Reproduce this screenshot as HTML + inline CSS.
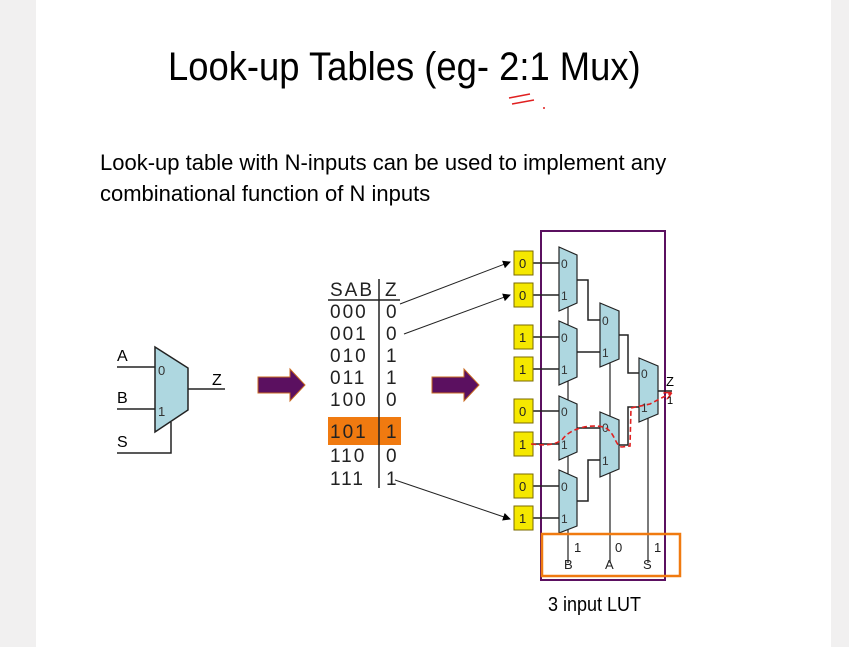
<!DOCTYPE html>
<html><head><meta charset="utf-8"><style>
body{margin:0;width:849px;height:647px;background:#f1f0f0;overflow:hidden;font-family:"Liberation Sans",sans-serif}
#pg{position:absolute;left:36px;top:0;width:795px;height:647px;background:#fff}
</style></head><body>
<div id="pg"></div>
<svg width="849" height="647" style="position:absolute;left:0;top:0" font-family="Liberation Sans, sans-serif">
<defs>
<marker id="ah" markerWidth="8" markerHeight="8" refX="7" refY="4" orient="auto" markerUnits="userSpaceOnUse"><path d="M0,0 L8,4 L0,8z" fill="#000"/></marker>
<marker id="rh" markerWidth="8" markerHeight="8" refX="7" refY="4" orient="auto" markerUnits="userSpaceOnUse"><path d="M0,0 L8,4 L0,8" fill="none" stroke="#e02020" stroke-width="1.5"/></marker>
</defs>
<text x="168" y="80" font-size="40" transform="translate(168,0) scale(0.91,1) translate(-168,0)">Look-up Tables (eg- 2:1 Mux)</text>
<path d="M509,98 L530,94 M512,104 L534,100" stroke="#e02020" stroke-width="1.5"/>
<circle cx="544" cy="108" r="1" fill="#e02020"/>
<text font-size="22" transform="translate(100,0) scale(1.0,1) translate(-100,0)"><tspan x="100" y="170">Look-up table with N-inputs can be used to implement any</tspan><tspan x="100" y="201">combinational function of N inputs</tspan></text>

<!-- left mux -->
<g stroke="#222" stroke-width="1.5" fill="none">
<path d="M117,367H155 M117,409H155 M117,453H171V422 M188,389H225"/>
<path d="M155,347 L188,368 L188,410 L155,432z" fill="#aed7e0"/>
</g>
<g font-size="16"><text x="117" y="361">A</text><text x="117" y="403">B</text><text x="117" y="447">S</text><text x="212" y="385">Z</text></g>
<g font-size="13" fill="#333"><text x="158" y="375">0</text><text x="158" y="416">1</text></g>

<!-- arrows -->
<path d="M258,377H290V369L305,385L290,401V393H258z" fill="#5b1060" stroke="#c86a20" stroke-width="1"/>
<path d="M432,377H464V369L479,385L464,401V393H432z" fill="#5b1060" stroke="#c86a20" stroke-width="1"/>

<!-- table -->
<rect x="328" y="417" width="73" height="28" fill="#f07a10"/>
<path d="M328,300H400 M379,279V488" stroke="#222" stroke-width="1.5"/>
<g font-size="19" letter-spacing="2" fill="#222">
<text x="330" y="296">SAB</text><text x="385" y="296">Z</text>
<text x="330" y="318">000</text><text x="386" y="318">0</text>
<text x="330" y="340">001</text><text x="386" y="340">0</text>
<text x="330" y="362">010</text><text x="386" y="362">1</text>
<text x="330" y="384">011</text><text x="386" y="384">1</text>
<text x="330" y="406">100</text><text x="386" y="406">0</text>
<text x="330" y="438">101</text><text x="386" y="438">1</text>
<text x="330" y="462">110</text><text x="386" y="462">0</text>
<text x="330" y="485">111</text><text x="386" y="485">1</text>
</g>
<g stroke="#222" stroke-width="1" marker-end="url(#ah)">
<path d="M400,304 L510,262"/><path d="M404,334 L510,295"/><path d="M395,480 L510,519"/>
</g>

<!-- LUT -->
<rect x="541" y="231" width="124" height="349" fill="none" stroke="#5b1060" stroke-width="2"/>
<g stroke="#222" stroke-width="1.5" fill="none">
<path d="M533,263H559 M533,295H559 M533,337H559 M533,369H559 M533,411H559 M533,444H559 M533,486H559 M533,518H559"/>
<path d="M577,280H588V320H600 M577,352H600 M619,335H628V373H639 M577,428H600 M577,501H588V460H600 M619,445H628V407H639 M658,391H672"/>
<path d="M568,307V563 M610,363V563 M648,418V563" stroke-width="1.2"/>
</g>
<g fill="#aed7e0" stroke="#222" stroke-width="1.2">
<path d="M559,247L577,255L577,303L559,311z"/>
<path d="M559,321L577,329L577,377L559,385z"/>
<path d="M559,396L577,404L577,452L559,460z"/>
<path d="M559,470L577,478L577,526L559,533z"/>
<path d="M600,303L619,311L619,359L600,367z"/>
<path d="M600,412L619,420L619,469L600,477z"/>
<path d="M639,358L658,366L658,414L639,422z"/>
</g>
<g font-size="12" fill="#333">
<text x="561" y="268">0</text><text x="561" y="300">1</text>
<text x="561" y="342">0</text><text x="561" y="374">1</text>
<text x="561" y="416">0</text><text x="561" y="449">1</text>
<text x="561" y="491">0</text><text x="561" y="523">1</text>
<text x="602" y="325">0</text><text x="602" y="357">1</text>
<text x="602" y="432">0</text><text x="602" y="465">1</text>
<text x="641" y="378">0</text><text x="641" y="412">1</text>
</g>
<g fill="#f5e800" stroke="#7a6a00" stroke-width="1">
<rect x="514" y="251" width="19" height="24"/><rect x="514" y="283" width="19" height="24"/>
<rect x="514" y="325" width="19" height="24"/><rect x="514" y="357" width="19" height="24"/>
<rect x="514" y="399" width="19" height="24"/><rect x="514" y="432" width="19" height="24"/>
<rect x="514" y="474" width="19" height="24"/><rect x="514" y="506" width="19" height="24"/>
</g>
<g font-size="13" fill="#222">
<text x="519" y="268">0</text><text x="519" y="300">0</text><text x="519" y="342">1</text><text x="519" y="374">1</text>
<text x="519" y="416">0</text><text x="519" y="449">1</text><text x="519" y="491">0</text><text x="519" y="523">1</text>
</g>
<path d="M531,444 C550,446 555,444 562,440 C570,428 590,424 603,427 C615,430 615,447 622,447 L630,446 L631,408 L650,404 L671,393" fill="none" stroke="#e02020" stroke-width="1.6" stroke-dasharray="5,3" marker-end="url(#rh)"/>
<text x="666" y="386" font-size="13">Z</text><text x="667" y="404" font-size="11">1</text>
<rect x="542" y="534" width="138" height="42" fill="none" stroke="#f07a10" stroke-width="2.5"/>
<g font-size="13" fill="#222"><text x="574" y="552">1</text><text x="615" y="552">0</text><text x="654" y="552">1</text>
<text x="564" y="569">B</text><text x="605" y="569">A</text><text x="643" y="569">S</text></g>
<text x="548" y="611" font-size="20" transform="translate(548,0) scale(0.9,1) translate(-548,0)">3 input LUT</text>
</svg>
</body></html>
